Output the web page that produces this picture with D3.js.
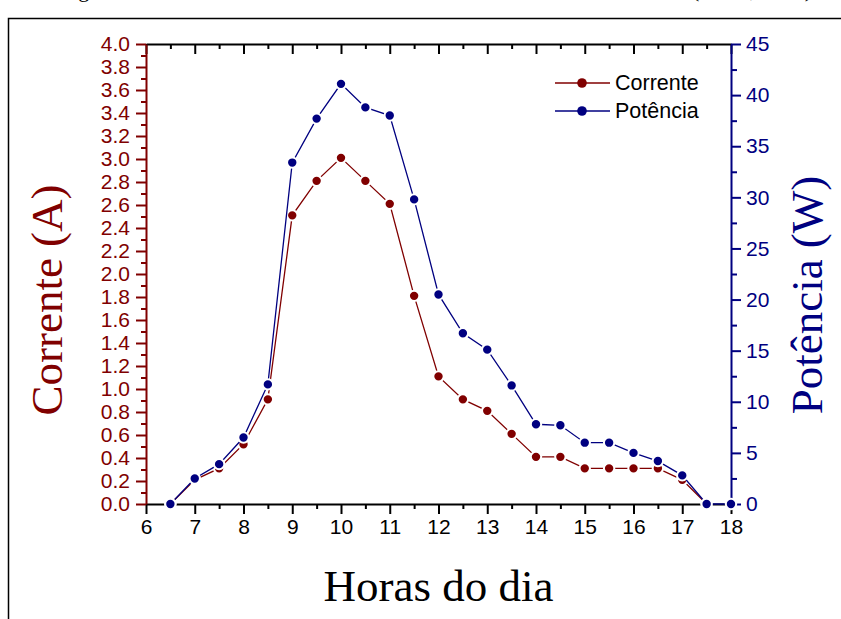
<!DOCTYPE html>
<meta charset="utf-8">
<script src="https://d3js.org/d3.v7.min.js"></script>
<style>
  body { margin: 0; background: #fff; }
</style>
<body>
<div id="my_dataviz"></div>
<script>

// data
var horas    = [6.5, 7, 7.5, 8, 8.5, 9, 9.5, 10, 10.5, 11, 11.5, 12, 12.5, 13, 13.5, 14, 14.5, 15, 15.5, 16, 16.5, 17, 17.5, 18];
var corrente = [0, 0.21, 0.31, 0.52, 0.91, 2.51, 2.81, 3.01, 2.81, 2.61, 1.81, 1.11, 0.91, 0.81, 0.61, 0.41, 0.41, 0.31, 0.31, 0.31, 0.31, 0.21, 0, null];
var potencia = [0, 2.5, 3.9, 6.5, 11.7, 33.4, 37.7, 41.1, 38.8, 38.0, 29.8, 20.5, 16.7, 15.1, 11.6, 7.8, 7.7, 6.0, 6.0, 5.0, 4.2, 2.8, 0, 0];
var xTicks = d3.range(6, 19, 1);
var yLeftTicks = d3.range(0, 4.01, 0.2);
var yRightTicks = d3.range(0, 46, 5);
var seriesNames = ["Corrente", "Potência"];

var red = "#800000", blue = "#000080";

var width = 841, height = 619;
var margin = {top: 44, right: 110, bottom: 115, left: 146};

var svg = d3.select("#my_dataviz")
  .append("svg")
    .attr("width", width)
    .attr("height", height)
    .style("display", "block");

// caption of the page, cut off at the top like in the scan
svg.append("text")
  .attr("x", 60).attr("y", -3)
  .style("font-family", "Liberation Serif")
  .style("font-size", "22px")
  .text("Figura 11 – Corrente e Potência fornecidas no decorrer do dia analisado");
svg.append("text")
  .attr("x", 812).attr("y", -3)
  .attr("text-anchor", "end")
  .style("font-family", "Liberation Serif")
  .style("font-size", "22px")
  .text("(Autor, 2016)");
svg.append("path")
  .attr("d", "M8.5,630 V18.5 H850")
  .attr("fill", "none").attr("stroke", "#000").attr("stroke-width", 1.5);

var x = d3.scaleLinear().domain([6, 18]).range([margin.left, width - margin.right]);
var yL = d3.scaleLinear().domain([0, 4]).range([height - margin.bottom, margin.top]);
var yR = d3.scaleLinear().domain([0, 45]).range([height - margin.bottom, margin.top]);

function styleAxis(g, color) {
  g.selectAll("path, line").attr("stroke", color);
  g.selectAll("text").attr("fill", color)
    .style("font-family", "Liberation Sans, Arial")
    .style("font-size", "21px");
}

// bottom axis (minor + major)
svg.append("g")
  .attr("transform", "translate(0," + yL(0) + ")")
  .call(d3.axisBottom(x).tickValues(d3.range(6.5, 18, 1)).tickSize(5).tickFormat(""))
  .call(function(g) { g.select(".domain").remove(); styleAxis(g, "#000"); g.selectAll("line").attr("stroke-width", 2); });
svg.append("g")
  .attr("transform", "translate(0," + yL(0) + ")")
  .call(d3.axisBottom(x).tickValues(xTicks).tickSize(10).tickSizeOuter(0).tickPadding(5).tickFormat(d3.format("d")))
  .call(function(g) { styleAxis(g, "#000"); g.selectAll("path, line").attr("stroke-width", 2); });

// top axis, ticks pointing in
svg.append("g")
  .attr("transform", "translate(0," + yL(4) + ")")
  .call(d3.axisTop(x).tickValues(d3.range(6.5, 18, 1)).tickSize(-5).tickFormat(""))
  .call(function(g) { g.select(".domain").remove(); styleAxis(g, "#000"); g.selectAll("line").attr("stroke-width", 2); });
svg.append("g")
  .attr("transform", "translate(0," + yL(4) + ")")
  .call(d3.axisTop(x).tickValues(xTicks).tickSize(-10).tickSizeOuter(0).tickFormat(""))
  .call(function(g) { styleAxis(g, "#000"); g.selectAll("path, line").attr("stroke-width", 2); });

// left axis
svg.append("g")
  .attr("transform", "translate(" + x(6) + ",0)")
  .call(d3.axisLeft(yL).tickValues(d3.range(0.1, 4, 0.2)).tickSize(5).tickFormat(""))
  .call(function(g) { g.select(".domain").remove(); styleAxis(g, red); g.selectAll("line").attr("stroke-width", 2); });
svg.append("g")
  .attr("transform", "translate(" + x(6) + ",0)")
  .call(d3.axisLeft(yL).tickValues(yLeftTicks).tickSize(10).tickSizeOuter(0).tickPadding(6).tickFormat(d3.format(".1f")))
  .call(function(g) { styleAxis(g, red); g.selectAll("path, line").attr("stroke-width", 2); });

// right axis
svg.append("g")
  .attr("transform", "translate(" + x(18) + ",0)")
  .call(d3.axisRight(yR).tickValues(d3.range(2.5, 45, 5)).tickSize(6).tickFormat(""))
  .call(function(g) { g.select(".domain").remove(); styleAxis(g, blue); g.selectAll("line").attr("stroke-width", 2); });
svg.append("g")
  .attr("transform", "translate(" + x(18) + ",0)")
  .call(d3.axisRight(yR).tickValues(yRightTicks).tickSize(10).tickSizeOuter(0).tickPadding(5).tickFormat(d3.format("d")))
  .call(function(g) { styleAxis(g, blue); g.selectAll("path, line").attr("stroke-width", 2); });

// axis titles
svg.append("text")
  .attr("transform", "translate(62," + 300 + ") rotate(-90)")
  .attr("text-anchor", "middle")
  .attr("fill", red)
  .style("font-family", "Liberation Serif")
  .style("font-size", "45px")
  .text("Corrente (A)");
svg.append("text")
  .attr("transform", "translate(822," + 295 + ") rotate(-90)")
  .attr("text-anchor", "middle")
  .attr("fill", blue)
  .style("font-family", "Liberation Serif")
  .style("font-size", "45px")
  .text("Potência (W)");
svg.append("text")
  .attr("x", (x(6) + x(18)) / 2)
  .attr("y", 601)
  .attr("text-anchor", "middle")
  .style("font-family", "Liberation Serif")
  .style("font-size", "45px")
  .text("Horas do dia");

// series
function drawSeries(values, yScale, color) {
  var pts = horas.map(function(h, i) { return {x: h, y: values[i]}; })
    .filter(function(d) { return d.y !== null; });
  svg.append("path")
    .datum(pts)
    .attr("fill", "none")
    .attr("stroke", color)
    .attr("stroke-width", 1.3)
    .attr("d", d3.line().x(function(d) { return x(d.x); }).y(function(d) { return yScale(d.y); }));
  svg.append("g")
    .selectAll("circle")
    .data(pts)
    .enter()
    .append("circle")
      .attr("cx", function(d) { return x(d.x); })
      .attr("cy", function(d) { return yScale(d.y); })
      .attr("r", 5.2)
      .attr("fill", color)
      .attr("stroke", "#fff")
      .attr("stroke-width", 2);
}
drawSeries(corrente, yL, red);
drawSeries(potencia, yR, blue);

// legend
var legend = svg.append("g");
[red, blue].forEach(function(c, i) {
  var ly = 83 + i * 28;
  legend.append("line")
    .attr("x1", 555).attr("x2", 610).attr("y1", ly).attr("y2", ly)
    .attr("stroke", c).attr("stroke-width", 1.3);
  legend.append("circle")
    .attr("cx", 582).attr("cy", ly).attr("r", 4.8)
    .attr("fill", c);
  legend.append("text")
    .attr("x", 615).attr("y", ly + 7)
    .style("font-family", "Liberation Sans, Arial")
    .style("font-size", "21.5px")
    .text(seriesNames[i]);
});

</script>
</body>
